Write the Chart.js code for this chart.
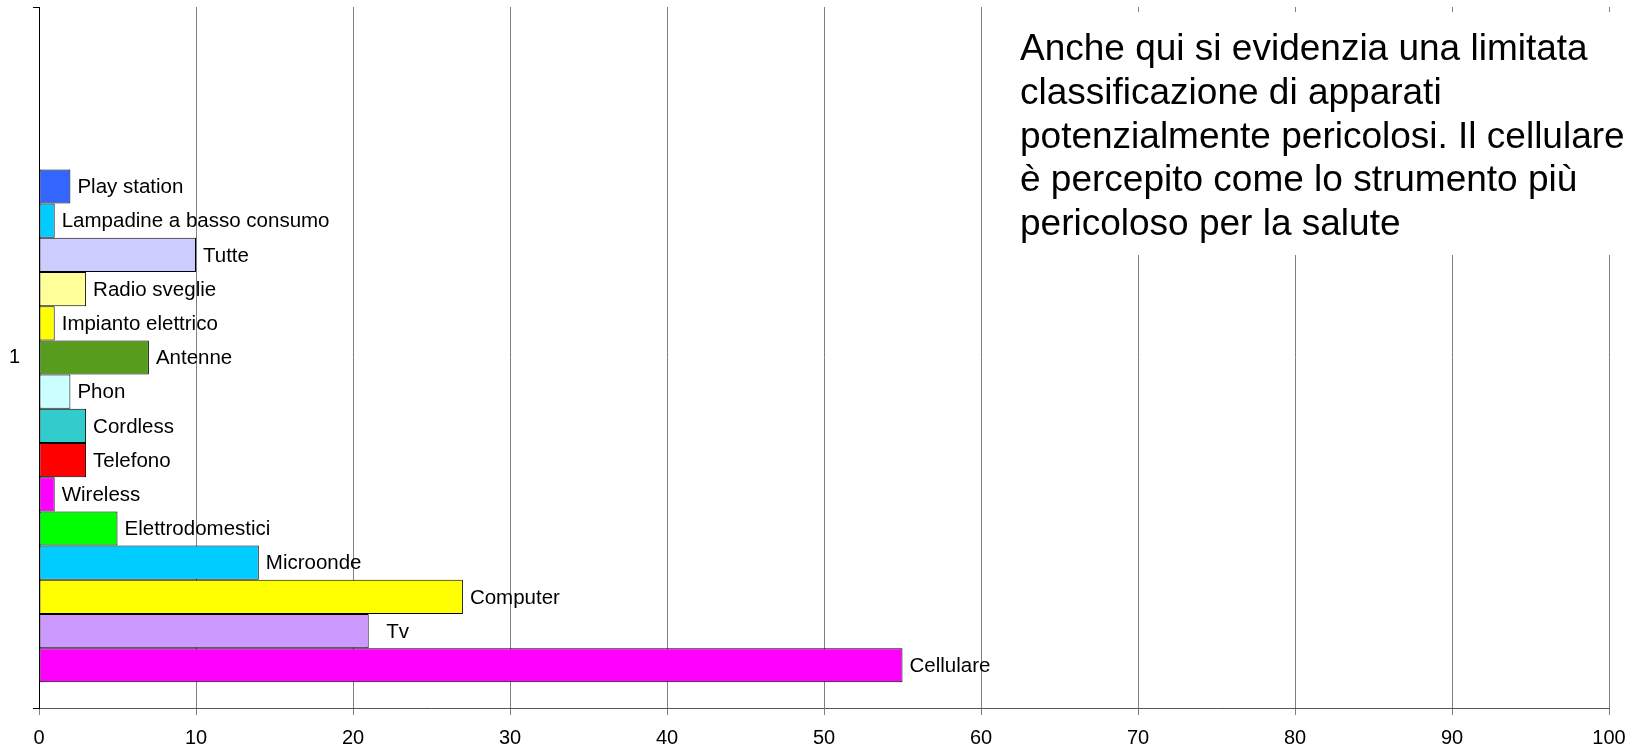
<!DOCTYPE html>
<html lang="it">
<head>
<meta charset="utf-8">
<title>Apparati percepiti come pericolosi</title>
<script src="https://cdn.jsdelivr.net/npm/chart.js@4.4.1/dist/chart.umd.min.js"></script>
<style>
  html, body { margin: 0; padding: 0; background: #fff; }
  #wrap { width: 1645px; height: 747px; position: relative; }
</style>
</head>
<body>
<div id="wrap"><canvas id="grafico"></canvas></div>
<script>
// dati (dall'alto verso il basso, le prime 4 serie sono vuote)
const categorie = ['1'];
const apparati = ['', '', '', '', 'Play station', 'Lampadine a basso consumo', 'Tutte', 'Radio sveglie',
  'Impianto elettrico', 'Antenne', 'Phon', 'Cordless', 'Telefono', 'Wireless', 'Elettrodomestici',
  'Microonde', 'Computer', 'Tv', 'Cellulare'];
const valori = [null, null, null, null, 2, 1, 10, 3, 1, 7, 2, 3, 3, 1, 5, 14, 27, 21, 55];
const colori = ['#fff', '#fff', '#fff', '#fff', '#3366FF', '#00CCFF', '#CCCCFF', '#FFFF99',
  '#FFFF00', '#589C1E', '#CCFFFF', '#33CCCC', '#FF0000', '#FF00FF', '#00FF00',
  '#00CCFF', '#FFFF00', '#CC99FF', '#FF00FF'];
const tickX = [0, 10, 20, 30, 40, 50, 60, 70, 80, 90, 100];
const nota = [
  'Anche qui si evidenzia una limitata',
  'classificazione di apparati',
  'potenzialmente pericolosi. Il cellulare',
  'è percepito come lo strumento più',
  'pericoloso per la salute'
];

const FONT = '"Liberation Sans", Arial, sans-serif';

// etichette accanto alle barre + riquadro di testo
const etichettePlugin = {
  id: 'etichette',
  afterDatasetsDraw(chart) {
    const ctx = chart.ctx;
    ctx.save();
    ctx.font = '20.5px ' + FONT;
    ctx.fillStyle = '#000';
    ctx.textAlign = 'left';
    ctx.textBaseline = 'middle';
    chart.data.datasets.forEach((ds, i) => {
      if (!ds.label) return;
      const meta = chart.getDatasetMeta(i);
      meta.data.forEach(bar => {
        const w = ctx.measureText(ds.label).width;
        const extra = Math.max(0, (44 - w) / 2);
        ctx.fillText(ds.label, bar.x + 7 + extra, bar.y + 1);
      });
    });

    // riquadro bianco con il commento
    ctx.fillStyle = '#fff';
    ctx.fillRect(1005, 12, 640, 243);
    ctx.fillStyle = '#000';
    ctx.font = '37px ' + FONT;
    ctx.textBaseline = 'alphabetic';
    nota.forEach((riga, k) => {
      ctx.fillText(riga, 1020, 60 + k * 43.75);
    });
    ctx.restore();
  }
};

const datasets = apparati.map((nome, i) => ({
  label: nome,
  data: [valori[i]],
  backgroundColor: colori[i],
  borderColor: '#000',
  borderWidth: 1,
  borderSkipped: false,
  barPercentage: 1,
  categoryPercentage: 19 / 20.5
}));

new Chart(document.getElementById('grafico'), {
  type: 'bar',
  data: { labels: categorie, datasets },
  options: {
    indexAxis: 'y',
    responsive: true,
    maintainAspectRatio: false,
    animation: false,
    layout: { padding: { top: 7, right: 36, left: 0, bottom: 0 } },
    plugins: {
      legend: { display: false },
      tooltip: { enabled: false }
    },
    scales: {
      x: {
        min: tickX[0],
        max: tickX[tickX.length - 1],
        afterFit: s => { s.height = 39; },
        ticks: {
          stepSize: tickX[1] - tickX[0],
          color: '#000',
          padding: 13,
          font: { family: FONT, size: 20, lineHeight: 1 }
        },
        grid: { color: '#808080', lineWidth: 1, tickLength: 7 },
        border: { color: '#555', width: 1 }
      },
      y: {
        afterFit: s => { s.width = 39; s.paddingTop = 0; s.paddingBottom = 0; },
        ticks: {
          color: '#000',
          padding: 13,
          font: { family: FONT, size: 20, lineHeight: 1 }
        },
        grid: { drawOnChartArea: false, color: '#000', tickLength: 6, offset: true },
        border: { color: '#000', width: 1 }
      }
    }
  },
  plugins: [etichettePlugin]
});
</script>
</body>
</html>
